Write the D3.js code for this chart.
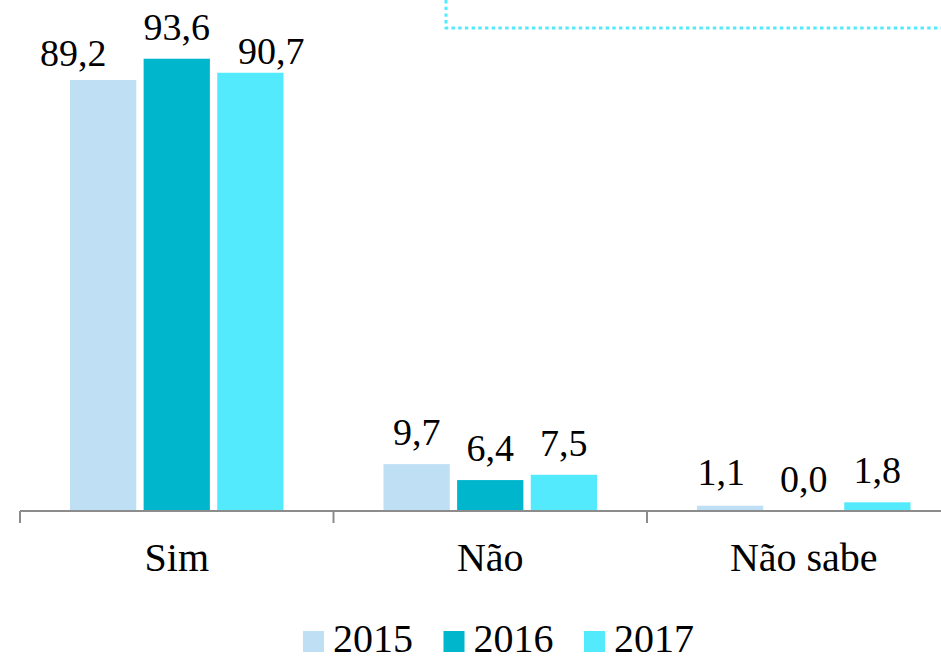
<!DOCTYPE html>
<html>
<head>
<meta charset="utf-8">
<script src="https://cdn.jsdelivr.net/npm/d3@7"></script>
<style>
  body { margin: 0; background: #fff; }
  svg text { font-family: "Liberation Serif", "Times New Roman", serif; fill: #000; }
</style>
</head>
<body>
<div id="chart"></div>
<script>
// data
var categories = ["Sim", "Não", "Não sabe"];
var years = ["2015", "2016", "2017"];
var values2015 = [89.2, 9.7, 1.1];
var values2016 = [93.6, 6.4, 0.0];
var values2017 = [90.7, 7.5, 1.8];
var colors = ["#bfdff4", "#00b6cc", "#53eafd"];

var seriesValues = [values2015, values2016, values2017];

// labels that Excel pushed aside so they don't collide (dx, dy in px)
var labelNudge = { "Sim-2015": [-30, 5], "Sim-2017": [21, 10], "Não sabe-2015": [-9, -2] };

var svgWidth = 941;
var svgHeight = 656;

var svg = d3.select("#chart").append("svg")
  .attr("width", svgWidth)
  .attr("height", svgHeight);

// baseline of the plot
var baseY = 511;
var left = 20;
var bandW = 313.5;

var xScale = d3.scaleBand()
  .domain(categories)
  .range([left, left + bandW * categories.length])
  .padding(0);

var xSub = d3.scaleBand()
  .domain(years)
  .range([50, 263.5])
  .paddingInner(0.1)
  .paddingOuter(0);

var yScale = d3.scaleLinear()
  .domain([0, 100])
  .range([baseY, baseY - 483.2]);

// dotted box peeking in at the top right
svg.append("path")
  .attr("d", "M446,0 L446,28 L945,28")
  .attr("fill", "none")
  .attr("stroke", "#53eafd")
  .attr("stroke-width", 3)
  .attr("stroke-dasharray", "3.4,3.3");

// bars
var rows = [];
categories.forEach(function(c, i) {
  years.forEach(function(y, j) {
    rows.push({ cat: c, year: y, value: seriesValues[j][i], color: colors[j] });
  });
});

var groups = svg.append("g");

groups.selectAll("rect").data(rows)
  .enter().append("rect")
  .attr("x", d => xScale(d.cat) + xSub(d.year))
  .attr("y", d => yScale(d.value))
  .attr("width", xSub.bandwidth())
  .attr("height", d => baseY - yScale(d.value))
  .attr("fill", d => d.color);

function nudge(d) {
  return labelNudge[d.cat + "-" + d.year] || [0, 0];
}

// value labels
groups.selectAll("text.val").data(rows)
  .enter().append("text")
  .attr("class", "val")
  .attr("x", d => xScale(d.cat) + xSub(d.year) + xSub.bandwidth() / 2 + nudge(d)[0])
  .attr("y", d => yScale(d.value) - 19 + nudge(d)[1])
  .attr("text-anchor", "middle")
  .attr("font-size", "38px")
  .text(d => d.value.toFixed(1).replace(".", ","));

// axis: line + ticks at band boundaries, labels centered
var xAxis = d3.axisBottom(xScale).tickSize(0).tickPadding(0);
var axisG = svg.append("g")
  .attr("transform", `translate(0, ${baseY})`)
  .call(xAxis);
axisG.select(".domain").remove();
axisG.selectAll("text")
  .attr("dy", null)
  .attr("y", 60)
  .attr("font-size", "40px")
  .attr("fill", "#000")
  .style("font-family", "'Liberation Serif', serif");

axisG.append("line")
  .attr("x1", left)
  .attr("x2", svgWidth + 20)
  .attr("y1", 0)
  .attr("y2", 0)
  .attr("stroke", "#8c8c8c")
  .attr("stroke-width", 2);

axisG.selectAll("line.bound").data(categories)
  .enter().append("line")
  .attr("class", "bound")
  .attr("x1", d => xScale(d))
  .attr("x2", d => xScale(d))
  .attr("y1", 0)
  .attr("y2", 12)
  .attr("stroke", "#8c8c8c")
  .attr("stroke-width", 2);

// legend
var legend = svg.append("g")
  .attr("transform", "translate(303, 631)");

var item = legend.selectAll("g").data(years)
  .enter().append("g")
  .attr("transform", (d, i) => `translate(${i * 140.5}, 0)`);

item.append("rect")
  .attr("width", 21)
  .attr("height", 21)
  .attr("fill", (d, i) => colors[i]);

item.append("text")
  .attr("x", 30)
  .attr("y", 21)
  .attr("font-size", "40px")
  .text(d => d);
</script>
</body>
</html>
